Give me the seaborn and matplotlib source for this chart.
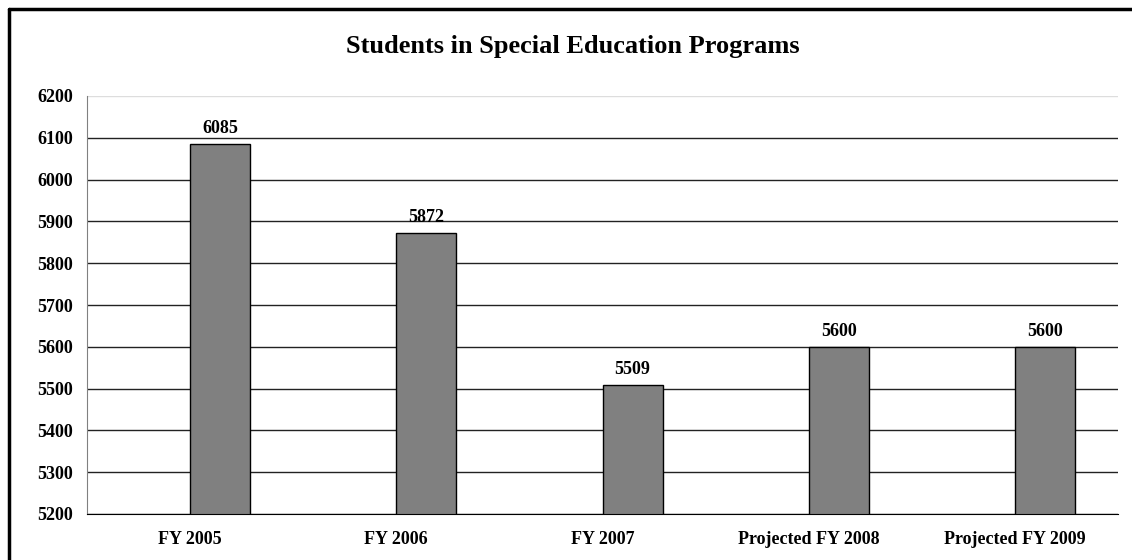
import pandas as pd
import numpy as np
import matplotlib
matplotlib.use('Agg')
import matplotlib.pyplot as plt
from matplotlib.lines import Line2D
import seaborn as sns

categories = ['FY 2005', 'FY 2006', 'FY 2007', 'Projected FY 2008', 'Projected FY 2009']
students = [6085, 5872, 5509, 5600, 5600]
yticks = [5200, 5300, 5400, 5500, 5600, 5700, 5800, 5900, 6000, 6100, 6200]

# Excel-style chart: an empty first series pushes the real bar right of centre
df = pd.DataFrame({
    'cat': categories * 2,
    'series': ['blank'] * len(categories) + ['Students'] * len(categories),
    'value': [0] * len(categories) + students,
})

sns.set_style('white')
plt.rcParams['font.family'] = ['Liberation Serif', 'DejaVu Serif']
plt.rcParams['text.color'] = 'black'
plt.rcParams['xtick.labelcolor'] = 'black'
plt.rcParams['ytick.labelcolor'] = 'black'

fig = plt.figure(figsize=(11.32, 5.6), dpi=100)
ax = fig.add_axes([87 / 1132, 1 - 514 / 560, (1118 - 87) / 1132, (514 - 96) / 560])

sns.barplot(data=df, x='cat', y='value', hue='series', hue_order=['blank', 'Students'],
            order=categories, palette=['#808080', '#808080'], width=0.583,
            edgecolor='black', linewidth=1, legend=False, ax=ax, zorder=3)

ax.set_ylim(5200, 6200)
ax.set_xlim(-0.5, len(categories) - 0.5)
ax.set_yticks(yticks)
ax.set_yticklabels([str(t) for t in yticks], fontsize=13, fontweight='bold', color='black')
ax.set_xticks(range(len(categories)))
ax.set_xticklabels(categories, fontsize=13, fontweight='bold', color='black')
ax.set_xticks(np.arange(-0.5, len(categories)), minor=True)
ax.tick_params(axis='x', which='major', length=0, pad=12)
ax.tick_params(axis='x', which='minor', length=5, width=1, color='black', direction='out')
ax.tick_params(axis='y', length=5, width=1, color='#808080', direction='out', pad=5)
ax.set_xlabel('')
ax.set_ylabel('')

ax.yaxis.grid(True, color='#222222', linewidth=1)
ax.set_axisbelow(True)
gl = ax.get_ygridlines()
gl[-1].set_color('#dddddd')

for s in ['top', 'right']:
    ax.spines[s].set_visible(False)
ax.spines['left'].set_color('#808080')
ax.spines['bottom'].set_color('black')
ax.spines['bottom'].set_zorder(4)

ax.bar_label(ax.containers[1], fmt='%d', padding=5, fontsize=13, fontweight='bold', color='black')

fig.text(573 / 1132, 1 - 47 / 560, 'Students in Special Education Programs',
         ha='center', va='center', fontsize=19, fontweight='bold', color='black')

fig.add_artist(Line2D([9 / 1132, 9 / 1132], [0, 1 - 9 / 560], color='black', linewidth=2.5))
fig.add_artist(Line2D([9 / 1132, 1], [1 - 9 / 560, 1 - 9 / 560], color='black', linewidth=2.5))

fig.savefig('out.png', dpi=100)
